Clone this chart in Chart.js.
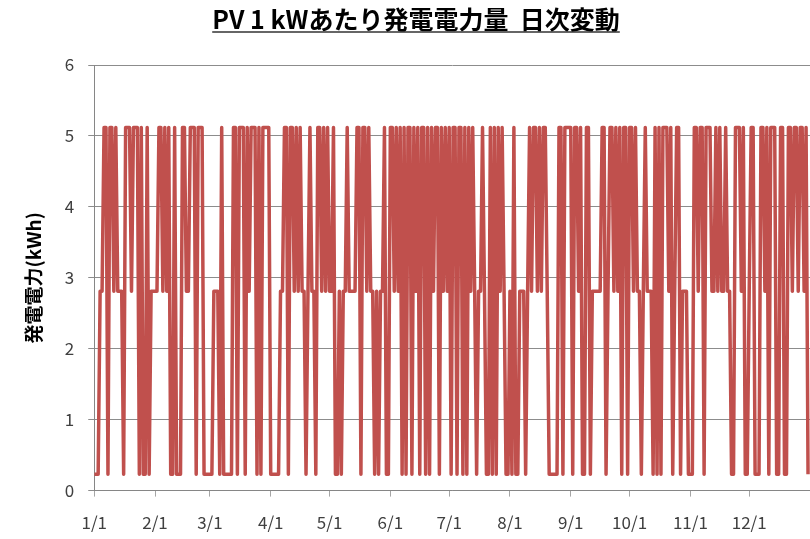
<!DOCTYPE html>
<html>
<head>
<meta charset="utf-8">
<script src="https://cdn.jsdelivr.net/npm/chart.js@4.4.0/dist/chart.umd.min.js"></script>
<style>
  html, body { margin: 0; padding: 0; background: #ffffff; }
  #wrap { position: relative; width: 810px; height: 539px; }
</style>
</head>
<body>
<div id="wrap"><canvas id="pvChart" width="810" height="539"></canvas></div>
<script>
// daily kWh per 1 kW of PV
const jan = [0.23,0.23,0.23,2.81,2.81,5.12,5.12,0.23,5.12,5.12,2.81,5.12,2.81,2.81,2.81,0.23,5.12,5.12,5.12,2.81,5.12,5.12,5.12,0.23,5.12,0.23,0.23,5.12,0.23,2.81,2.81];
const feb = [2.81,2.81,5.12,5.12,2.81,5.12,2.81,5.12,0.23,0.23,5.12,0.23,0.23,0.23,5.12,5.12,2.81,2.81,5.12,5.12,5.12,0.23,5.12,5.12,5.12,0.23,0.23,0.23];
const mar = [0.23,0.23,2.81,2.81,2.81,0.23,5.12,0.23,0.23,0.23,0.23,0.23,5.12,5.12,0.23,5.12,5.12,5.12,0.23,5.12,2.81,5.12,5.12,5.12,0.23,5.12,0.23,5.12,5.12,5.12,5.12];
const apr = [0.23,0.23,0.23,0.23,0.23,2.81,2.81,5.12,5.12,0.23,5.12,5.12,2.81,5.12,2.81,5.12,2.81,2.81,0.23,2.81,5.12,2.81,2.81,0.23,5.12,5.12,2.81,5.12,2.81,5.12];
const may = [2.81,2.81,5.12,0.23,0.23,2.81,0.23,2.81,2.81,5.12,2.81,2.81,2.81,2.81,5.12,5.12,0.23,5.12,5.12,2.81,5.12,2.81,2.81,0.23,2.81,0.23,2.81,2.81,5.12,0.23,0.23];
const jun = [5.12,5.12,2.81,5.12,2.81,5.12,0.23,5.12,0.23,5.12,5.12,0.23,5.12,2.81,5.12,0.23,5.12,5.12,0.23,5.12,0.23,5.12,2.81,5.12,5.12,0.23,5.12,2.81,5.12,2.81];
const jul = [5.12,0.23,5.12,5.12,0.23,5.12,5.12,0.23,5.12,0.23,5.12,2.81,5.12,2.81,0.23,2.81,2.81,5.12,2.81,0.23,0.23,5.12,0.23,5.12,0.23,5.12,2.81,5.12,2.81,0.23,0.23];
const aug = [2.81,0.23,5.12,0.23,0.23,2.81,2.81,2.81,0.23,2.81,5.12,2.81,5.12,5.12,2.81,5.12,2.81,5.12,5.12,2.81,0.23,0.23,0.23,0.23,0.23,5.12,5.12,0.23,5.12,5.12,5.12];
const sep = [5.12,0.23,5.12,5.12,2.81,5.12,0.23,0.23,5.12,5.12,0.23,2.81,2.81,2.81,2.81,2.81,5.12,5.12,0.23,2.81,5.12,5.12,2.81,5.12,2.81,5.12,0.23,5.12,5.12,0.23];
const oct = [5.12,5.12,2.81,5.12,2.81,2.81,0.23,2.81,5.12,2.81,2.81,2.81,0.23,5.12,0.23,5.12,0.23,5.12,5.12,5.12,2.81,5.12,0.23,2.81,5.12,5.12,0.23,2.81,2.81,2.81,0.23];
const nov = [0.23,0.23,5.12,5.12,2.81,5.12,5.12,0.23,5.12,5.12,5.12,2.81,2.81,5.12,2.81,5.12,2.81,2.81,5.12,2.81,2.81,0.23,0.23,5.12,5.12,5.12,2.81,5.12,0.23,0.23];
const dec = [2.81,5.12,5.12,0.23,0.23,0.23,5.12,5.12,2.81,5.12,0.23,5.12,5.12,5.12,0.23,0.23,5.12,5.12,0.23,0.23,5.12,5.12,2.81,5.12,5.12,2.81,5.12,5.12,2.81,5.12,0.23];

const months = [jan, feb, mar, apr, may, jun, jul, aug, sep, oct, nov, dec];
const monthLabels = ['1/1','2/1','3/1','4/1','5/1','6/1','7/1','8/1','9/1','10/1','11/1','12/1'];
const yTicks = [0, 1, 2, 3, 4, 5, 6];

const titleText = 'PV 1 kWあたり発電電力量  日次変動';
const yTitle = '発電電力(kWh)';

// day index of each month start, and the points
const monthStarts = [];
const points = [];
let day = 0;
months.forEach(m => {
    monthStarts.push(day);
    m.forEach(v => {
        points.push({x: day, y: v});
        day++;
    });
});

const FONT = '"Noto Sans CJK JP", "Noto Sans", sans-serif';
const TITLE_SIZE = 25;
const TITLE_PAD_TOP = 4;

// title underline, just under the text
const underline = {
    id: 'underline',
    afterDraw(chart) {
        const tb = chart.titleBlock;
        if (!tb) return;
        const ctx = chart.ctx;
        ctx.save();
        ctx.font = 'bold ' + TITLE_SIZE + 'px ' + FONT;
        const w = ctx.measureText(titleText).width;
        const cx = (tb.left + tb.right) / 2;
        const mid = tb.top + TITLE_PAD_TOP + TITLE_SIZE * 1.2 / 2;
        const y = mid + 13;
        ctx.strokeStyle = '#333333';
        ctx.lineWidth = 1.5;
        ctx.beginPath();
        ctx.moveTo(cx - w / 2, y);
        ctx.lineTo(cx + w / 2, y);
        ctx.stroke();
        ctx.restore();
    }
};

const ctx = document.getElementById('pvChart').getContext('2d');
new Chart(ctx, {
    type: 'line',
    data: {
        datasets: [{
            data: points,
            borderColor: '#C0504D',
            borderWidth: 3.5,
            pointRadius: 0,
            tension: 0,
            borderJoinStyle: 'round',
            fill: false
        }]
    },
    options: {
        responsive: false,
        animation: false,
        layout: { padding: { top: 0, right: 0, bottom: -10, left: 22 } },
        plugins: {
            legend: { display: false },
            tooltip: { enabled: false },
            title: {
                display: true,
                text: titleText,
                color: '#000000',
                font: { family: FONT, size: TITLE_SIZE, weight: 'bold' },
                padding: { top: TITLE_PAD_TOP, bottom: 31 }
            }
        },
        scales: {
            x: {
                type: 'linear',
                min: 0,
                max: 365,
                afterBuildTicks: axis => {
                    axis.ticks = monthStarts.map(v => ({ value: v }));
                },
                ticks: {
                    autoSkip: false,
                    maxRotation: 0,
                    color: '#404040',
                    padding: 16,
                    font: { family: FONT, size: 17 },
                    callback: v => monthLabels[monthStarts.indexOf(v)]
                },
                grid: {
                    drawOnChartArea: false,
                    drawTicks: true,
                    tickLength: 6,
                    color: '#a6a6a6'
                },
                border: { color: '#868686', width: 1 }
            },
            y: {
                min: 0,
                max: 6,
                afterBuildTicks: axis => {
                    axis.ticks = yTicks.map(v => ({ value: v }));
                },
                ticks: {
                    color: '#404040',
                    padding: 14,
                    font: { family: FONT, size: 17 }
                },
                grid: {
                    color: '#8c8c8c',
                    tickLength: 6
                },
                border: { color: '#868686', width: 1 },
                title: {
                    display: true,
                    text: yTitle,
                    color: '#000000',
                    font: { family: FONT, size: 19, weight: 'bold' },
                    padding: { top: 0, bottom: 6 }
                }
            }
        }
    },
    plugins: [underline]
});
</script>
</body>
</html>
